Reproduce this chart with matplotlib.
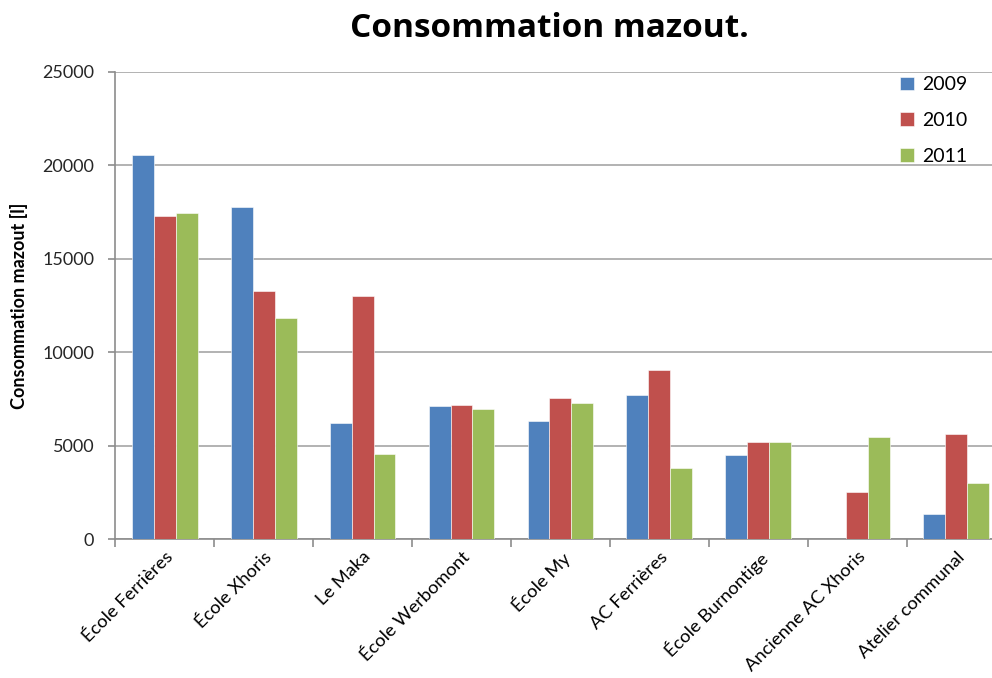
import numpy as np
import matplotlib.pyplot as plt
from matplotlib.ticker import FixedLocator, NullFormatter

# data
sites = ['École Ferrières', 'École Xhoris', 'Le Maka', 'École Werbomont', 'École My',
         'AC Ferrières', 'École Burnontige', 'Ancienne AC Xhoris', 'Atelier communal']
c2009 = [20550, 17770, 6190, 7140, 6300, 7710, 4500, 0, 1340]
c2010 = [17290, 13290, 12990, 7170, 7550, 9050, 5175, 2500, 5600]
c2011 = [17450, 11815, 4550, 6980, 7280, 3820, 5175, 5445, 3015]
years = ['2009', '2010', '2011']
colors = ['#4F81BD', '#C0504D', '#9BBB59']

plt.rcParams['font.family'] = ['Lato', 'DejaVu Sans']

fig = plt.figure(figsize=(9.92, 6.78), dpi=100)
# the plot area runs a little past the right edge of the picture, as in the reference
ax = fig.add_axes([0.116, 0.205, 0.898, 0.689])

x = np.arange(len(sites))
w = 0.222
for i, (vals, lab) in enumerate(zip([c2009, c2010, c2011], years)):
    ax.bar(x + (i - 1) * w, vals, width=w, color=colors[i], label=lab,
           edgecolor='white', linewidth=0.4, zorder=3)

ax.set_xlim(-0.5, len(sites) - 0.5)
ax.set_ylim(0, 25000)
ax.set_yticks(np.arange(0, 25001, 5000))
ax.yaxis.grid(True, color='#a6a6a6', linewidth=1.2, zorder=0)

# category labels centred under the groups, tick marks between groups
ax.set_xticks(x)
ax.set_xticklabels(sites, rotation=45, ha='right', rotation_mode='anchor', fontsize=13.2)
ax.tick_params(axis='x', length=0, pad=7)
ax.xaxis.set_minor_locator(FixedLocator(np.arange(-0.5, len(sites), 1.0)))
ax.xaxis.set_minor_formatter(NullFormatter())
ax.tick_params(axis='x', which='minor', length=6, color='#8c8c8c', width=1.2)
ax.tick_params(axis='y', length=5, color='#8c8c8c', width=1.2, labelsize=13,
               labelcolor='#262626', pad=10)

for s in ['top', 'right']:
    ax.spines[s].set_visible(False)
for s in ['left', 'bottom']:
    ax.spines[s].set_color('#8c8c8c')
    ax.spines[s].set_linewidth(1.2)

ax.set_ylabel('Consommation mazout [l]', fontsize=13, fontweight='bold', labelpad=10)
fig.text(0.554, 0.958, 'Consommation mazout.', ha='center', va='center',
         fontsize=24, fontweight='bold', family=['Open Sans', 'DejaVu Sans'])

leg = ax.legend(loc='upper left', bbox_to_anchor=(0.862, 1.028), frameon=False,
                fontsize=14, handlelength=0.72, handleheight=0.72,
                labelspacing=0.97, handletextpad=0.4)

fig.savefig('out.png', dpi=100)
